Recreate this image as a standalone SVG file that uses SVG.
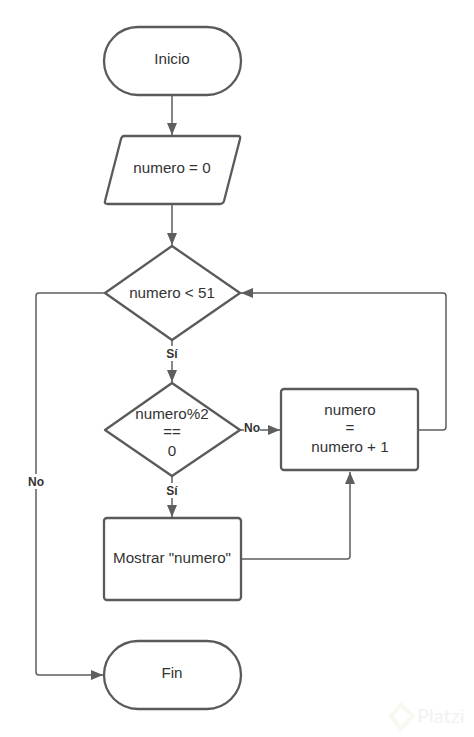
<svg xmlns="http://www.w3.org/2000/svg" width="474" height="737" viewBox="0 0 474 737">
<style>
.n{fill:#fff;stroke:#5a5a5a;stroke-width:2.3;stroke-linejoin:round}
.c{fill:none;stroke:#5e5e5e;stroke-width:1.5}
.t{font-family:"Liberation Sans",Arial,sans-serif;font-size:15.2px;fill:#333;text-anchor:middle}
.l{font-family:"Liberation Sans",Arial,sans-serif;font-size:12px;font-weight:bold;fill:#333;text-anchor:middle}
.b{fill:#fff;stroke:none}
</style>
<defs>
<marker id="a" markerUnits="userSpaceOnUse" markerWidth="13" markerHeight="12" refX="12" refY="6" orient="auto">
<path d="M0 1 L12 6 L0 11 Z" fill="#5e5e5e"/>
</marker>
</defs>
<rect width="474" height="737" fill="#fff"/>
<g id="connectors">
<path class="c" marker-end="url(#a)" d="M172 95V135"/>
<path class="c" marker-end="url(#a)" d="M172 204V245"/>
<path class="c" marker-end="url(#a)" d="M105 293H39Q36 293 36 296V672Q36 675 39 675H103"/>
<path class="c" marker-end="url(#a)" d="M172 340V382"/>
<path class="c" marker-end="url(#a)" d="M240 430H280"/>
<path class="c" marker-end="url(#a)" d="M172 476V517"/>
<path class="c" marker-end="url(#a)" d="M241 559H347Q350 559 350 556V472"/>
<path class="c" marker-end="url(#a)" d="M418 430H443Q446 430 446 427V296Q446 293 443 293H241"/>
<rect class="b" x="164" y="346" width="16" height="15"/>
<text class="l" x="172" y="357.500">Sí</text>
<rect class="b" x="164" y="483" width="16" height="15"/>
<text class="l" x="172" y="494.500">Sí</text>
<rect class="b" x="244" y="421" width="16" height="15"/>
<text class="l" x="252" y="432">No</text>
<rect class="b" x="27" y="474" width="18" height="15"/>
<text class="l" x="36" y="485.500">No</text>
</g>
<g id="inicio">
<rect class="n" x="104" y="27" width="137" height="68" rx="34"/>
<text class="t" x="172" y="64">Inicio</text>
</g>
<g id="numero-0">
<path class="n" d="M124 136H238Q241 136 240 139L224 201Q223 204 220 204H108Q104 204 105 201L121 139Q122 136 124 136Z"/>
<text class="t" x="172" y="173">numero = 0</text>
</g>
<g id="decision-51">
<path class="n" d="M172 246L240 293L172 340L105 293Z"/>
<text class="t" x="172" y="297.500">numero &lt; 51</text>
</g>
<g id="decision-par">
<path class="n" d="M172 383L240 430L172 476L105 430Z"/>
<text class="t" x="172" y="419">numero%2</text>
<text class="t" x="172" y="437">==</text>
<text class="t" x="172" y="456">0</text>
</g>
<g id="incremento">
<rect class="n" x="281" y="389" width="137" height="81" rx="3"/>
<text class="t" x="350" y="415">numero</text>
<text class="t" x="350" y="433">=</text>
<text class="t" x="350" y="452">numero + 1</text>
</g>
<g id="mostrar">
<rect class="n" x="104" y="518" width="137" height="82" rx="3"/>
<text class="t" x="172" y="563">Mostrar "numero"</text>
</g>
<g id="fin">
<rect class="n" x="104" y="641" width="137" height="68" rx="34"/>
<text class="t" x="172" y="678">Fin</text>
</g>
<g id="watermark">
<path d="M401 705L413 716L401 729L391 716Z" fill="none" stroke="#f7f8f0" stroke-width="4"/>
<text x="417" y="723" font-family="Lato,'Liberation Sans',sans-serif" font-size="20" fill="#f2f2f2">Platzi</text>
</g>
</svg>
